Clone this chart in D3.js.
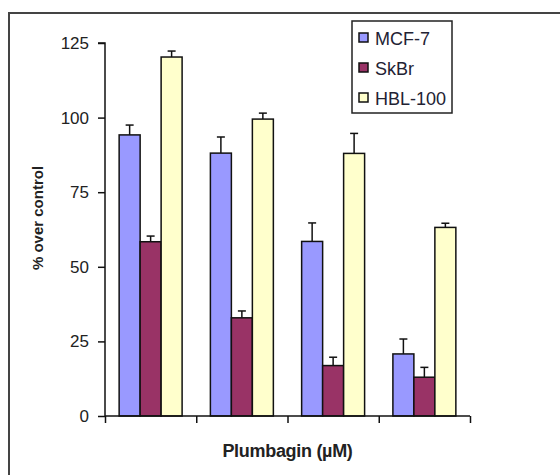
<!DOCTYPE html>
<html>
<head>
<meta charset="utf-8">
<script src="https://cdn.jsdelivr.net/npm/d3@7"></script>
<style>
  body { margin: 0; background: #fff; }
  text { font-family: Arial, "Liberation Sans", sans-serif; fill: #222; }
</style>
</head>
<body>
<script>
// doses are not labelled on the axis, just four groups
var doses = ["dose1", "dose2", "dose3", "dose4"];
var lines = ["MCF-7", "SkBr", "HBL-100"];
var mcf7 = [94.2, 88.1, 58.5, 20.8];
var mcf7Err = [3.3, 5.4, 6.2, 5.0];
var skbr = [58.4, 32.9, 16.9, 13.0];
var skbrErr = [1.9, 2.3, 2.8, 3.3];
var hbl = [120.3, 99.5, 88.0, 63.2];
var hblErr = [2.0, 2.0, 6.7, 1.4];
var yTicks = [0, 25, 50, 75, 100, 125];

var colors = ["#9999ff", "#993366", "#ffffcc"];
var values = [mcf7, skbr, hbl];
var errs = [mcf7Err, skbrErr, hblErr];

var width = 560, height = 475;
var margin = {top: 43, right: 90, bottom: 59, left: 105};

var svg = d3.select("body").append("svg")
  .attr("width", width)
  .attr("height", height);

// outer frame (right / bottom edges run off the picture)
svg.append("rect")
  .attr("x", 9).attr("y", 13)
  .attr("width", 600).attr("height", 500)
  .attr("fill", "none")
  .attr("stroke", "#444")
  .attr("stroke-width", 2);

var x = d3.scaleBand()
  .domain(doses)
  .range([margin.left, width - margin.right])
  .paddingInner(0.31)
  .paddingOuter(0.155);

var xEdge = d3.scaleLinear()
  .domain([0, doses.length])
  .range([margin.left, width - margin.right]);

var xSub = d3.scaleBand()
  .domain(lines)
  .range([0, x.bandwidth()]);

var y = d3.scaleLinear()
  .domain([0, 125])
  .range([height - margin.bottom, margin.top]);

// bars + error bars
lines.forEach(function(name, s) {
  var g = svg.append("g");
  doses.forEach(function(d, i) {
    var v = values[s][i], e = errs[s][i];
    var bx = x(d) + xSub(name);
    var cx = bx + xSub.bandwidth() / 2;
    g.append("line")
      .attr("x1", cx).attr("x2", cx)
      .attr("y1", y(v)).attr("y2", y(v + e))
      .attr("stroke", "#111").attr("stroke-width", 1.5);
    g.append("line")
      .attr("x1", cx - 4).attr("x2", cx + 4)
      .attr("y1", y(v + e)).attr("y2", y(v + e))
      .attr("stroke", "#111").attr("stroke-width", 1.5);
    g.append("rect")
      .attr("x", bx)
      .attr("y", y(v))
      .attr("width", xSub.bandwidth())
      .attr("height", y(0) - y(v))
      .attr("fill", colors[s])
      .attr("stroke", "#111")
      .attr("stroke-width", 1.5);
  });
});

// Y axis
var yAxis = svg.append("g")
  .attr("transform", "translate(" + margin.left + ",0)")
  .call(d3.axisLeft(y).tickValues(yTicks).tickSize(7).tickPadding(9));
yAxis.selectAll("path, line").attr("stroke", "#111").attr("stroke-width", 1.5);
yAxis.select(".domain").attr("d", "M-7," + y(125) + "H0V" + y(0));
yAxis.selectAll("text")
  .style("font-family", "Arial, 'Liberation Sans', sans-serif")
  .style("font-size", "17px")
  .attr("fill", "#222");

// X axis, ticks at group edges, no labels
var xAxis = svg.append("g")
  .attr("transform", "translate(0," + y(0) + ")")
  .call(d3.axisBottom(xEdge).ticks(doses.length).tickFormat("").tickSize(7));
xAxis.selectAll("path, line").attr("stroke", "#111").attr("stroke-width", 1.5);
xAxis.select(".domain").attr("d", "M" + margin.left + ",0H" + (width - margin.right));

// axis titles
svg.append("text")
  .attr("transform", "translate(43," + 218 + ") rotate(-90)")
  .attr("text-anchor", "middle")
  .style("font-size", "15px")
  .style("font-weight", "bold")
  .text("% over control");

svg.append("text")
  .attr("x", (margin.left + width - margin.right) / 2)
  .attr("y", 457)
  .attr("text-anchor", "middle")
  .style("font-size", "18px")
  .style("font-weight", "bold")
  .style("letter-spacing", "-0.3px")
  .text("Plumbagin (\u00b5M)");

// legend
var legend = svg.append("g").attr("transform", "translate(352,21)");
legend.append("rect")
  .attr("width", 100).attr("height", 92)
  .attr("fill", "#fff")
  .attr("stroke", "#222").attr("stroke-width", 1.5);
lines.forEach(function(name, s) {
  var row = legend.append("g").attr("transform", "translate(0," + (17 + s * 30) + ")");
  row.append("rect")
    .attr("x", 7).attr("y", -5)
    .attr("width", 9).attr("height", 9)
    .attr("fill", colors[s])
    .attr("stroke", "#111").attr("stroke-width", 1.5);
  row.append("text")
    .attr("x", 23).attr("y", 6.5)
    .style("font-size", "18px")
    .style("fill", "#223")
    .text(name);
});
</script>
</body>
</html>
